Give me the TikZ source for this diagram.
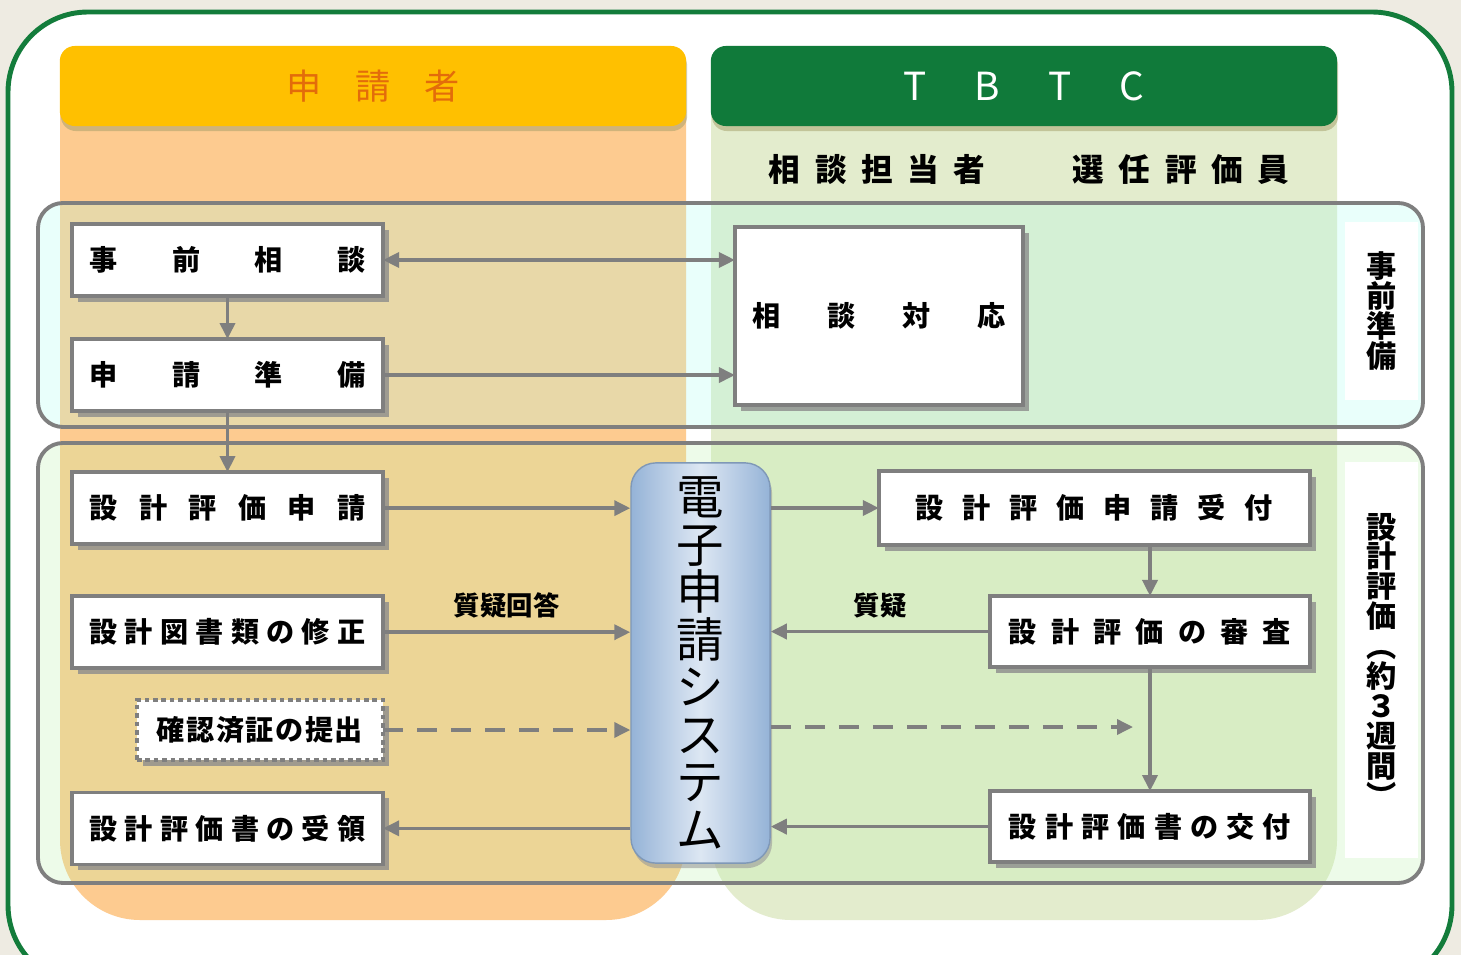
\documentclass[tikz,border=0pt]{standalone}
\usepackage{fontspec}
\setmainfont{Noto Sans CJK JP}
\usetikzlibrary{arrows.meta,shadows,positioning}

\definecolor{bgbeige}{HTML}{EEEBE2}
\definecolor{framegreen}{HTML}{137C3B}
\definecolor{appyellow}{HTML}{FFC000}
\definecolor{apporange}{HTML}{E36C0A}
\definecolor{appbody}{HTML}{FDCB90}
\definecolor{tbtcgreen}{HTML}{107A3A}
\definecolor{tbtcbody}{HTML}{E3ECCD}
\definecolor{stagecyan}{HTML}{AAFFF0}
\definecolor{stagemint}{HTML}{BBF3AB}
\definecolor{linegray}{HTML}{7F7F7F}
\definecolor{sysblue}{HTML}{95B3D7}
\definecolor{syslight}{HTML}{DDE7F3}

% spread the characters of a label over a fixed width
\newcommand{\distr}[2]{\makebox[#1]{#2}}

\tikzset{
  boxshadow/.style={drop shadow={shadow xshift=0.06cm, shadow yshift=-0.06cm, fill=black!45, opacity=0.8}},
  box/.style={draw=linegray, line width=1pt, fill=white, inner sep=0pt, outer sep=0pt, boxshadow,
    font=\fontsize{8}{8}\selectfont\bfseries},
  leftbox/.style={box, minimum width=3.11cm, minimum height=0.72cm},
  rightbox/.style={box, minimum width=3.2cm, minimum height=0.71cm},
  header/.style={rounded corners=0.15cm, minimum width=6.26cm, minimum height=0.8cm,
    drop shadow={shadow xshift=0.01cm, shadow yshift=-0.05cm, fill=black!40!olive!60, opacity=0.5}},
  stage/.style={draw=linegray, line width=1.1pt, rounded corners=0.25cm},
  stagelabel/.style={fill=white, minimum width=0.73cm, align=center, inner sep=0pt,
    font=\fontsize{8.6}{8.5}\selectfont\bfseries},
  flow/.style={draw=linegray, line width=1pt, ->},
  dflow/.style={flow, dash pattern=on 0.2cm off 0.14cm},
  qlabel/.style={font=\fontsize{7.5}{7.5}\selectfont\bfseries, inner sep=2pt}
}

\begin{document}
\begin{tikzpicture}[x=0.01cm, y=-0.01cm, >={Triangle[length=0.16cm, width=0.15cm]}]
\useasboundingbox (0,0) rectangle (1461,955);

% background and outer frame
\fill[bgbeige] (0,0) rectangle (1461,955);
\draw[framegreen, line width=1.4pt, fill=white, rounded corners=0.8cm] (8,12) rectangle (1452,985);

% column bodies
\fill[appbody] (60,110) [rounded corners=0.8cm] -- (60,920) -- (686,920) [sharp corners] -- (686,110) -- cycle;
\fill[tbtcbody] (711,110) [rounded corners=0.8cm] -- (711,920) -- (1337,920) [sharp corners] -- (1337,110) -- cycle;

% stage tints over the columns
\fill[stagecyan, fill opacity=0.25, rounded corners=0.25cm] (38,203) rectangle (1423,427);
\fill[stagemint, fill opacity=0.25, rounded corners=0.25cm] (38,443) rectangle (1423,883);

% column headers
\node[header, fill=appyellow, text=apporange, font=\fontsize{10}{10}\selectfont] (applicant) at (373,86)
  {\distr{1.73cm}{申\hfill 請\hfill 者}};
\node[header, fill=tbtcgreen, text=white, font=\fontsize{11}{11}\selectfont] (tbtc) at (1024,86)
  {\distr{2.41cm}{T\hfill B\hfill T\hfill C}};
\node[font=\fontsize{9}{9}\selectfont\bfseries] (advisor) at (877,170)
  {\distr{2.16cm}{相\hfill 談\hfill 担\hfill 当\hfill 者}};
\node[font=\fontsize{9}{9}\selectfont\bfseries] (assessor) at (1181,170)
  {\distr{2.17cm}{選\hfill 任\hfill 評\hfill 価\hfill 員}};

% stages
\draw[stage] (38,203) rectangle (1423,427);
\draw[stage] (38,443) rectangle (1423,883);
\node[stagelabel, minimum height=1.78cm] (prelabel) at (1381.5,311) {事\\前\\準\\備};
\node[stagelabel, minimum height=3.96cm] (evallabel) at (1381.5,660)
  {設\\計\\評\\価\\︵\\約\\３\\週\\間\\︶};

% applicant side
\node[leftbox] (consult) at (227.5,260) {\distr{2.76cm}{事\hfill 前\hfill 相\hfill 談}};
\node[leftbox, below=0.43cm of consult] (prep) {\distr{2.76cm}{申\hfill 請\hfill 準\hfill 備}};
\node[leftbox, below=0.61cm of prep] (apply) {\distr{2.76cm}{設\hfill 計\hfill 評\hfill 価\hfill 申\hfill 請}};
\node[leftbox, below=0.52cm of apply] (revise) {\distr{2.76cm}{設\hfill 計\hfill 図\hfill 書\hfill 類\hfill の\hfill 修\hfill 正}};
\node[leftbox, below=1.24cm of revise] (receive) {\distr{2.76cm}{設\hfill 計\hfill 評\hfill 価\hfill 書\hfill の\hfill 受\hfill 領}};
\node[box, dash pattern=on 1.3pt off 1.1pt, minimum width=2.46cm, minimum height=0.6cm] (permit) at (260,730)
  {\distr{2.06cm}{確\hfill 認\hfill 済\hfill 証\hfill の\hfill 提\hfill 出}};

% TBTC side
\node[box, minimum width=2.88cm, minimum height=1.78cm] (respond) at (879,316)
  {\distr{2.53cm}{相\hfill 談\hfill 対\hfill 応}};
\node[box, minimum width=4.31cm, minimum height=0.74cm] (accept) at (1094.5,508)
  {\distr{3.57cm}{設\hfill 計\hfill 評\hfill 価\hfill 申\hfill 請\hfill 受\hfill 付}};
\node[rightbox] (review) at (1150,631.5)
  {\distr{2.82cm}{設\hfill 計\hfill 評\hfill 価\hfill の\hfill 審\hfill 査}};
\node[rightbox, below=1.24cm of review] (issue)
  {\distr{2.82cm}{設\hfill 計\hfill 評\hfill 価\hfill 書\hfill の\hfill 交\hfill 付}};

% electronic application system
\node[rounded corners=0.25cm, minimum width=1.39cm, minimum height=4cm, inner sep=0pt,
  left color=sysblue, right color=sysblue, middle color=syslight, draw=sysblue!85!black, line width=0.4pt,
  drop shadow={shadow xshift=0.02cm, shadow yshift=-0.05cm, fill=black!40, opacity=0.6},
  font=\fontsize{13.5}{13.5}\selectfont, align=center] (system) at (700.5,663)
  {電\\子\\申\\請\\シ\\ス\\テ\\ム};
\coordinate (dashend) at (1133,727);

% connectors
\draw[flow, <->] (consult.east) -- (consult.east -| respond.west);
\draw[flow] (prep.east) -- (prep.east -| respond.west);
\draw[flow] (consult.south) -- (prep.north);
\draw[flow] (prep.south) -- (apply.north);
\draw[flow] (apply.east) -- (apply.east -| system.west);
\draw[flow] (revise.east) -- node[qlabel, above=0.05cm] {質疑回答} (revise.east -| system.west);
\draw[dflow] (permit.east) -- (permit.east -| system.west);
\draw[flow] (receive.east -| system.west) -- (receive.east);
\draw[flow] (system.east |- accept.west) -- (accept.west);
\draw[flow] (review.west) -- node[qlabel, above=0.05cm] {質疑} (review.west -| system.east);
\draw[dflow] (system.east |- dashend) -- (dashend);
\draw[flow] (review.north |- accept.south) -- (review.north);
\draw[flow] (review.south) -- (issue.north);
\draw[flow] (issue.west) -- (issue.west -| system.east);
\end{tikzpicture}
\end{document}
